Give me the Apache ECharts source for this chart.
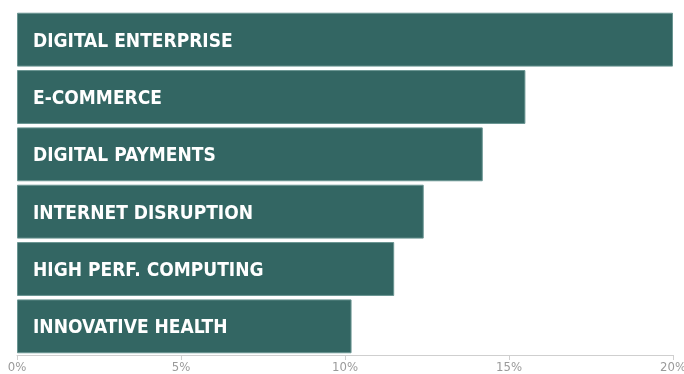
<!DOCTYPE html>
<html>
<head>
<meta charset="utf-8">
<script src="https://cdn.jsdelivr.net/npm/echarts@6/dist/echarts.min.js"></script>
<style>
  html, body { margin: 0; padding: 0; background: #fff; }
  #chart { width: 684px; height: 374px; }
</style>
</head>
<body>
<div id="chart"></div>
<script>
const categories = ['DIGITAL ENTERPRISE', 'E-COMMERCE', 'DIGITAL PAYMENTS', 'INTERNET DISRUPTION', 'HIGH PERF. COMPUTING', 'INNOVATIVE HEALTH']
const shares = [20, 15.5, 14.2, 12.4, 11.5, 10.2]
const tickValues = [0, 5, 10, 15, 20]

let chart = echarts.init(document.getElementById('chart'))

chart.setOption({
    animation: false,
    grid: { left: 17, right: 11, top: 11, bottom: 19, outerBoundsMode: 'none', containLabel: false },
    xAxis: {
        type: 'value',
        min: 0,
        max: 20,
        interval: 5,
        splitLine: { show: false },
        axisLine: { show: true, lineStyle: { color: '#cfcfcf', width: 1 } },
        axisTick: { show: true, length: 5, lineStyle: { color: '#cfcfcf' } },
        axisLabel: {
            color: '#9a9a9a',
            fontSize: 13,
            fontFamily: 'DejaVu Sans Condensed, sans-serif',
            margin: 6,
            formatter: (v) => (tickValues.includes(v) ? v + '%' : '')
        }
    },
    yAxis: {
        type: 'category',
        data: categories,
        inverse: true,
        axisLine: { show: false },
        axisTick: { show: false },
        axisLabel: { show: false }
    },
    series: [{
        type: 'bar',
        data: shares,
        barCategoryGap: '6%',
        itemStyle: { color: '#336663', borderColor: '#6a9592', borderWidth: 1 },
        label: {
            show: true,
            position: 'insideLeft',
            distance: 16,
            offset: [0, 2],
            color: '#ffffff',
            fontSize: 19,
            fontWeight: 'bold',
            fontFamily: 'DejaVu Sans Condensed, sans-serif',
            formatter: (p) => p.name
        }
    }]
})
</script>
</body>
</html>
